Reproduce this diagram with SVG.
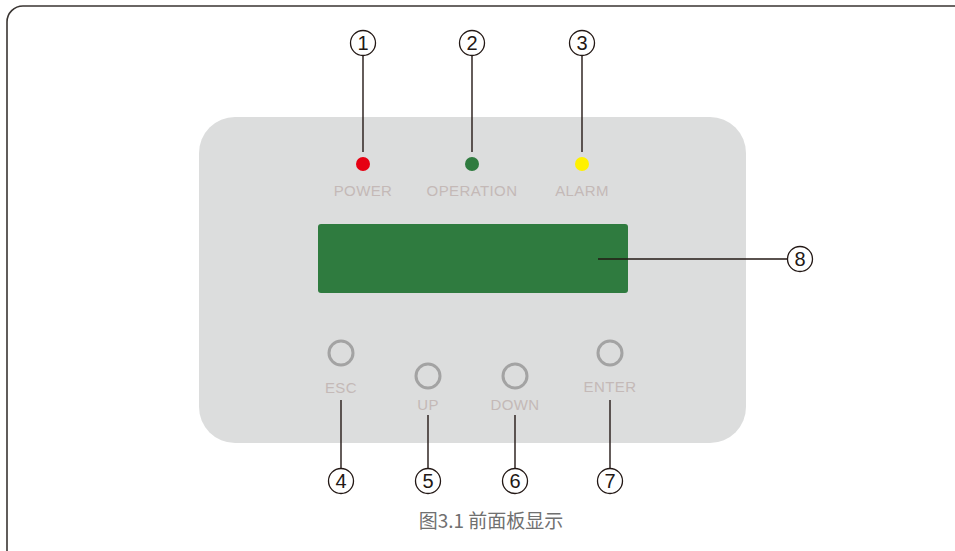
<svg xmlns="http://www.w3.org/2000/svg" width="955" height="551" viewBox="0 0 955 551">
<style>
.lbl{font-family:"Liberation Sans",Arial,sans-serif;font-size:15px;fill:#c4b9b7;text-anchor:middle;letter-spacing:0.4px}
.num{font-family:"Liberation Sans",Arial,sans-serif;font-size:20px;fill:#231815;text-anchor:middle}
.nc{fill:#fff;stroke:#231815;stroke-width:1.3}
.btn{fill:none;stroke:#a3a3a3;stroke-width:3}
.ln{stroke:#231815;stroke-width:1.4;fill:none}
</style>
<rect x="7" y="6" width="970" height="560" rx="16" fill="#fff" stroke="#3a3532" stroke-width="1.6"/>
<g id="panel"><rect x="199" y="117" width="547" height="326" rx="36" fill="#dcdddd"/></g>
<g id="lcd"><rect x="318" y="224" width="310" height="69" rx="3" fill="#2f7b3f"/></g>
<g id="connectors">
<line class="ln" x1="363" y1="55" x2="363" y2="152"/>
<line class="ln" x1="472" y1="55" x2="472" y2="152"/>
<line class="ln" x1="582" y1="55" x2="582" y2="152"/>
<line class="ln" x1="598" y1="259" x2="787" y2="259"/>
<line class="ln" x1="341" y1="400" x2="341" y2="468"/>
<line class="ln" x1="428" y1="415" x2="428" y2="468"/>
<line class="ln" x1="515" y1="415" x2="515" y2="468"/>
<line class="ln" x1="610" y1="400" x2="610" y2="468"/>
</g>
<g id="led-power"><circle cx="363" cy="164" r="7" fill="#e60012"/><text class="lbl" x="363" y="196">POWER</text></g>
<g id="led-operation"><circle cx="472" cy="164" r="7" fill="#2f7b3f"/><text class="lbl" x="472" y="196">OPERATION</text></g>
<g id="led-alarm"><circle cx="582" cy="164" r="7" fill="#fff100"/><text class="lbl" x="582" y="196">ALARM</text></g>
<g id="btn-esc"><circle class="btn" cx="341" cy="353" r="12"/><text class="lbl" x="341" y="393">ESC</text></g>
<g id="btn-up"><circle class="btn" cx="428" cy="376" r="12"/><text class="lbl" x="428" y="410">UP</text></g>
<g id="btn-down"><circle class="btn" cx="515" cy="376" r="12"/><text class="lbl" x="515" y="410">DOWN</text></g>
<g id="btn-enter"><circle class="btn" cx="610" cy="353" r="12"/><text class="lbl" x="610" y="392">ENTER</text></g>
<g id="n1"><circle class="nc" cx="363" cy="43" r="12.5"/><text class="num" x="363" y="50">1</text></g>
<g id="n2"><circle class="nc" cx="472" cy="43" r="12.5"/><text class="num" x="472" y="50">2</text></g>
<g id="n3"><circle class="nc" cx="582" cy="43" r="12.5"/><text class="num" x="582" y="50">3</text></g>
<g id="n4"><circle class="nc" cx="341" cy="481" r="12.5"/><text class="num" x="341" y="488">4</text></g>
<g id="n5"><circle class="nc" cx="428" cy="481" r="12.5"/><text class="num" x="428" y="488">5</text></g>
<g id="n6"><circle class="nc" cx="515" cy="481" r="12.5"/><text class="num" x="515" y="488">6</text></g>
<g id="n7"><circle class="nc" cx="610" cy="481" r="12.5"/><text class="num" x="610" y="488">7</text></g>
<g id="n8"><circle class="nc" cx="800" cy="259" r="12.5"/><text class="num" x="800" y="266">8</text></g>
<text x="491" y="528" font-family="'Noto Sans CJK SC','Noto Sans',sans-serif" font-size="19" fill="#707070" text-anchor="middle">图3.1 前面板显示</text>
</svg>
